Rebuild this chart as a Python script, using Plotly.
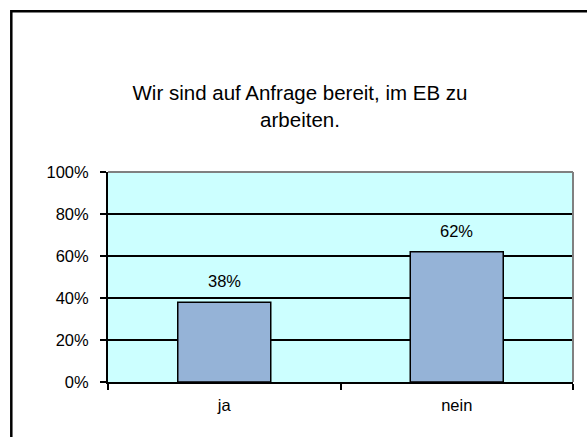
import plotly.graph_objects as go

categories = ["ja", "nein"]
values = [38, 62]
value_labels = ["38%", "62%"]
y_ticks = [0, 20, 40, 60, 80, 100]
y_tick_labels = ["0%", "20%", "40%", "60%", "80%", "100%"]
title_text = "Wir sind auf Anfrage bereit, im EB zu<br>arbeiten."

W, H = 587, 437
L, R, T, B = 108, 14, 172, 55
pw, ph = W - L - R, H - T - B
FONT = "Liberation Sans, Arial"

fig = go.Figure()
fig.add_trace(go.Bar(
    x=categories, y=values,
    marker=dict(color="#95B3D7", line=dict(color="black", width=1.5)),
    hoverinfo="skip",
))

for c, v, t in zip(categories, values, value_labels):
    fig.add_annotation(x=c, y=v, text=t, showarrow=False, yanchor="bottom",
                       yshift=10, font=dict(family=FONT, size=16.5, color="black"))

def px_x(p):
    return (p - L) / pw

def px_y(p):
    return (H - B - p) / ph

# outer frame
fig.add_shape(type="rect", xref="paper", yref="paper",
              x0=px_x(11.3), x1=px_x(640), y0=px_y(480), y1=px_y(11.3),
              line=dict(color="black", width=2.5), layer="above")
# gray top/right plot border
fig.add_shape(type="line", xref="paper", yref="paper", x0=0, x1=1, y0=1, y1=1,
              line=dict(color="#808080", width=2), layer="above")
fig.add_shape(type="line", xref="paper", yref="paper", x0=1, x1=1, y0=0, y1=1,
              line=dict(color="#808080", width=2), layer="above")

fig.update_layout(
    width=W, height=H,
    margin=dict(l=L, r=R, t=T, b=B),
    paper_bgcolor="white",
    plot_bgcolor="#CCFFFF",
    bargap=0.6,
    showlegend=False,
    font=dict(family=FONT, color="black"),
    title=dict(text=title_text, x=300 / W, xanchor="center", y=1 - 100 / H,
               yanchor="middle", yref="container",
               font=dict(family=FONT, size=20.5, color="black")),
    xaxis=dict(
        showline=True, linecolor="black", linewidth=2,
        ticks="outside", ticklen=6, tickwidth=1.5, tickcolor="black",
        tickson="boundaries", showgrid=False,
        tickfont=dict(size=16.5), ticklabelstandoff=7,
    ),
    yaxis=dict(
        range=[0, 100], tickvals=y_ticks, ticktext=y_tick_labels,
        showline=True, linecolor="black", linewidth=2,
        ticks="outside", ticklen=6, tickwidth=1.5, tickcolor="black",
        showgrid=True, gridcolor="black", gridwidth=1.5,
        zeroline=False, tickfont=dict(size=16.5), ticklabelstandoff=8,
    ),
)

fig.write_html("out.html", config={"displayModeBar": False},
               post_script="document.body.style.margin='0';")
